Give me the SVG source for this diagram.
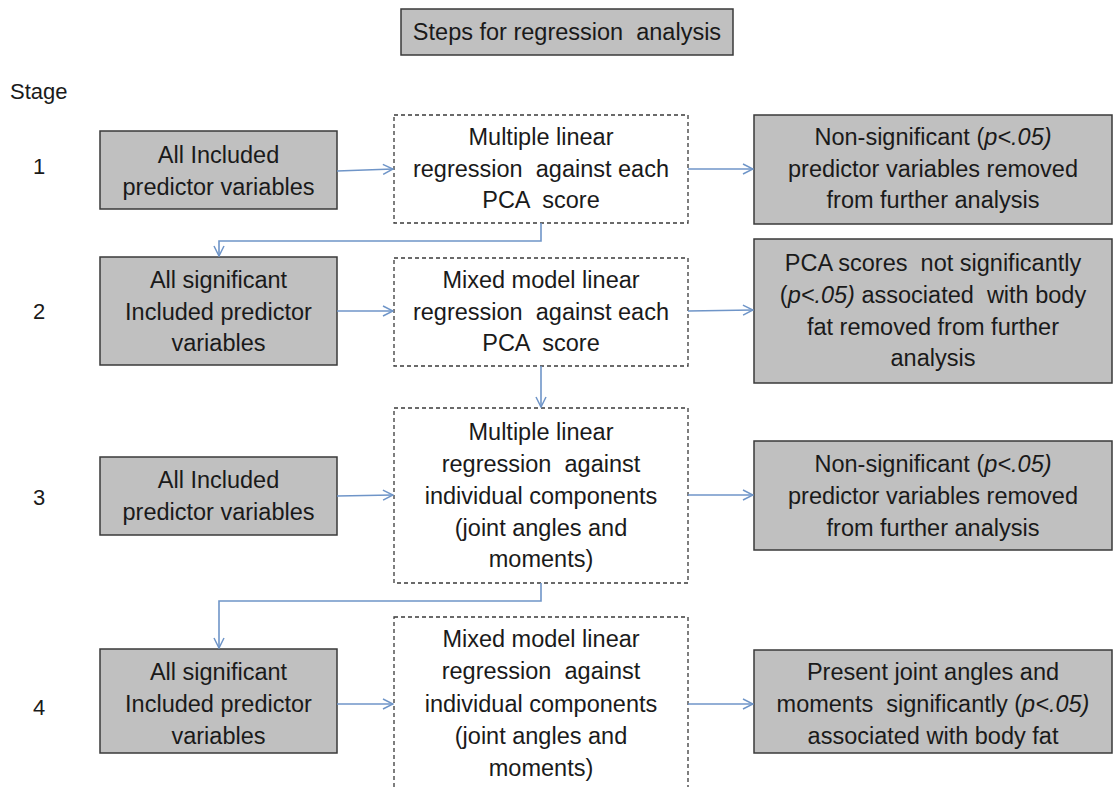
<svg xmlns="http://www.w3.org/2000/svg" width="1117" height="787" viewBox="0 0 1117 787">
<style>
text{font-family:"Liberation Sans",Arial,sans-serif;font-size:23.5px;fill:#1a1a1a;text-anchor:middle;white-space:pre}
.st{text-anchor:start;font-size:22px}
.g{fill:#c0c0c0;stroke:#3a3a3a;stroke-width:1.5}
.d{fill:#fff;stroke:#3a3a3a;stroke-width:1.3;stroke-dasharray:4 3}
.c{fill:none;stroke:#6f95c8;stroke-width:1.6}
.i{font-style:italic}
</style>
<defs>
<marker id="a" viewBox="0 0 12 12" refX="11" refY="6" markerWidth="12" markerHeight="12" markerUnits="userSpaceOnUse" orient="auto">
<path d="M1,1 L11,6 L1,11" fill="none" stroke="#6f95c8" stroke-width="1.5"/>
</marker>
</defs>
<rect width="1117" height="787" fill="#fff"/>
<g id="title"><rect class="g" x="401" y="9" width="332" height="46"/><text x="567" y="40">Steps for regression  analysis</text></g>
<g id="stages">
<text class="st" x="10" y="99">Stage</text>
<text class="st" x="33" y="174">1</text>
<text class="st" x="33" y="319">2</text>
<text class="st" x="33" y="505">3</text>
<text class="st" x="33" y="715">4</text>
</g>
<g id="n1a"><rect class="g" x="100" y="131" width="237" height="78"/><text x="218.5" y="163">All Included</text><text x="218.5" y="195">predictor variables</text></g>
<g id="n1b"><rect class="d" x="394" y="115" width="294" height="108"/><text x="541" y="145">Multiple linear</text><text x="541" y="177">regression  against each</text><text x="541" y="208">PCA  score</text></g>
<g id="n1c"><rect class="g" x="754" y="115" width="358" height="109"/><text x="933" y="145">Non-significant (<tspan class="i">p&lt;.05)</tspan></text><text x="933" y="177">predictor variables removed</text><text x="933" y="208">from further analysis</text></g>
<g id="n2a"><rect class="g" x="100" y="257" width="237" height="108"/><text x="218.5" y="288">All significant</text><text x="218.5" y="320">Included predictor</text><text x="218.5" y="351">variables</text></g>
<g id="n2b"><rect class="d" x="394" y="258" width="294" height="108"/><text x="541" y="288">Mixed model linear</text><text x="541" y="320">regression  against each</text><text x="541" y="351">PCA  score</text></g>
<g id="n2c"><rect class="g" x="754" y="239" width="358" height="144"/><text x="933" y="271">PCA scores  not significantly</text><text x="933" y="303">(<tspan class="i">p&lt;.05)</tspan> associated  with body</text><text x="933" y="335">fat removed from further</text><text x="933" y="366">analysis</text></g>
<g id="n3a"><rect class="g" x="100" y="457" width="237" height="78"/><text x="218.5" y="488">All Included</text><text x="218.5" y="520">predictor variables</text></g>
<g id="n3b"><rect class="d" x="394" y="408" width="294" height="175"/><text x="541" y="440">Multiple linear</text><text x="541" y="472">regression  against</text><text x="541" y="504">individual components</text><text x="541" y="536">(joint angles and</text><text x="541" y="567">moments)</text></g>
<g id="n3c"><rect class="g" x="754" y="441" width="358" height="109"/><text x="933" y="472">Non-significant (<tspan class="i">p&lt;.05)</tspan></text><text x="933" y="504">predictor variables removed</text><text x="933" y="536">from further analysis</text></g>
<g id="n4a"><rect class="g" x="100" y="649" width="237" height="104"/><text x="218.5" y="680">All significant</text><text x="218.5" y="712">Included predictor</text><text x="218.5" y="744">variables</text></g>
<g id="n4b"><rect class="d" x="394" y="617" width="294" height="190"/><text x="541" y="647">Mixed model linear</text><text x="541" y="679">regression  against</text><text x="541" y="712">individual components</text><text x="541" y="744">(joint angles and</text><text x="541" y="776">moments)</text></g>
<g id="n4c"><rect class="g" x="754" y="650" width="358" height="103"/><text x="933" y="680">Present joint angles and</text><text x="933" y="712">moments  significantly (<tspan class="i">p&lt;.05)</tspan></text><text x="933" y="744">associated with body fat</text></g>
<g id="connectors">
<path class="c" d="M337,171 L393,169" marker-end="url(#a)"/>
<path class="c" d="M688,169 L753,169" marker-end="url(#a)"/>
<path class="c" d="M541,223 V241 H219 V256" marker-end="url(#a)"/>
<path class="c" d="M337,311 L393,311" marker-end="url(#a)"/>
<path class="c" d="M688,311 L753,310" marker-end="url(#a)"/>
<path class="c" d="M541,366 V407" marker-end="url(#a)"/>
<path class="c" d="M337,496 L393,495" marker-end="url(#a)"/>
<path class="c" d="M688,495 L753,495" marker-end="url(#a)"/>
<path class="c" d="M541,583 V601 H219 V648" marker-end="url(#a)"/>
<path class="c" d="M337,704 L393,704" marker-end="url(#a)"/>
<path class="c" d="M688,704 L753,704" marker-end="url(#a)"/>
</g>
</svg>
